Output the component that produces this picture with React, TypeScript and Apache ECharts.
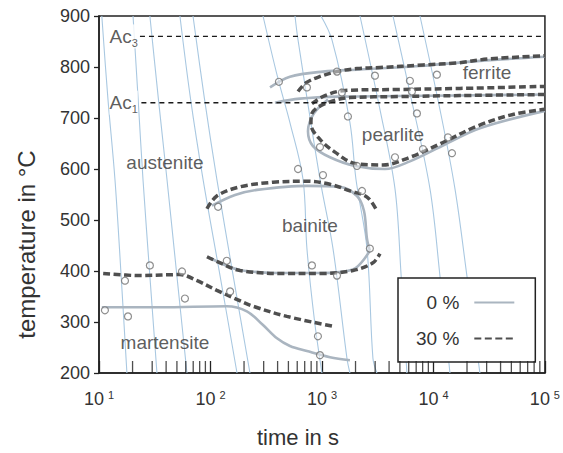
import React, { useEffect, useRef } from "react";
import * as echarts from "echarts";

// ---------- axis ticks ----------
const yTicks = [200, 300, 400, 500, 600, 700, 800, 900];
const decades = [10, 100, 1000, 10000];
const mantissas = [2, 3, 4, 5, 6, 7, 8, 9];

// ---------- critical temperatures ----------
const ac3Line = [[23.3, 860], [100000, 860]];
const ac1Line = [[24, 730], [100000, 730]];

// ---------- cooling curves (time s, temperature °C) ----------
const cool1 = [[10.6, 900], [12, 740], [13.9, 580], [15.8, 390], [17.8, 200]];
const cool2 = [[20.2, 900], [22.4, 740], [24.8, 580], [28.6, 390], [33.1, 200]];
const cool3 = [[28.6, 900], [34, 740], [40.7, 580], [50, 390], [61.5, 200]];
const cool4 = [[53.2, 900], [66, 740], [85.7, 580], [122, 390], [173, 200]];
const cool5 = [[69.7, 900], [88, 740], [114, 580], [160, 390], [226, 200]];
const cool6 = [[296, 900], [400, 780], [516, 691], [676, 580], [733, 444], [860, 300], [1000, 200]];
const cool7 = [[573, 900], [610, 853], [960, 580], [1256, 444], [1675, 229], [1782, 200]];
const cool8 = [[980, 900], [1230, 853], [1782, 691], [2018, 580], [2535, 444], [2865, 229], [3113, 200]];
const cool9 = [[2193, 900], [3311, 717], [4520, 561], [5100, 400], [5780, 200]];
const cool10 = [[4335, 900], [6150, 750], [9310, 561], [11430, 391], [14060, 200]];
const cool11 = [[7570, 900], [11430, 717], [15600, 561], [19950, 391], [26100, 200]];
const coolingCurves = [cool1, cool2, cool3, cool4, cool5, cool6, cool7, cool8, cool9, cool10, cool11];

// ---------- 0 % (solid) ----------
const s0Ferrite = [[342, 760], [516, 781], [1021, 791], [2193, 795], [7570, 802], [26100, 812], [100000, 820]];
const s0FerrPearl = [[379, 730], [635, 738], [1449, 742], [5012, 743], [100000, 746]];
const s0Pearlite = [[1133, 736], [847, 709], [749, 674], [830, 645], [1180, 623], [1977, 606], [3673, 600], [6150, 615], [12680, 648], [26100, 680], [100000, 714]];
const s0Bainite = [[103, 528], [166, 549], [261, 559], [733, 567], [1449, 565], [2061, 547], [2380, 518], [2535, 463], [2690, 440]];
const s0BainiteEnd = [[100, 425], [184, 402], [485, 396], [960, 396], [1897, 403], [2690, 440]];
const s0Martensite = [[10.6, 329], [35.2, 329], [140, 331], [212, 321], [296, 294], [395, 268], [516, 253], [733, 243], [1180, 231], [1782, 225]];

// ---------- 30 % (dashed) ----------
const s30Ferrite = [[610, 752], [720, 769], [950, 781], [1364, 791], [2061, 797], [3311, 799], [8051, 804], [16260, 808], [32100, 816], [100000, 822]];
const s30FerrEnd = [[813, 728], [1064, 744], [1607, 754], [5012, 756], [17300, 758], [100000, 762]];
const s30Pearlite = [[100000, 746], [17300, 744], [5012, 742], [1782, 740], [1064, 728], [813, 709], [796, 688], [960, 658], [1309, 633], [1977, 611], [3524, 608], [6150, 623], [12160, 652], [24550, 684], [51600, 707], [100000, 717]];
const s30Bainite = [[93, 522], [114, 547], [184, 565], [364, 574], [733, 576], [1180, 570], [1783, 557], [2535, 545], [3113, 518]];
const s30BainiteEnd = [[93, 428], [122, 416], [184, 401], [485, 395], [960, 395], [1897, 401], [2865, 416], [3311, 434]];
const s30Martensite = [[10.9, 395], [23.3, 391], [53, 393], [76, 381], [114, 362], [166, 346], [240, 331], [485, 311], [1230, 292]];

// ---------- measured points (circles) ----------
const measured = [
  [411, 771], [733, 760], [1364, 791], [2987, 783], [6150, 773], [10740, 785],
  [1510, 750], [6410, 752], [1710, 703], [7110, 709], [960, 643], [2061, 606],
  [4520, 623], [8051, 639], [13490, 662], [14660, 631], [610, 600], [1021, 588],
  [2286, 557], [117, 526], [140, 420], [2690, 444], [813, 411], [1364, 391],
  [28.6, 411], [55.5, 399], [17.1, 381], [11.3, 323], [18.2, 311], [59, 346],
  [150, 360], [920, 272], [960, 235],
];

// ---------- region labels ----------
const regionLabels = [
  { name: "austenite", t: 39, T: 613 },
  { name: "ferrite", t: 30200, T: 789 },
  { name: "pearlite", t: 4335, T: 668 },
  { name: "bainite", t: 780, T: 489 },
  { name: "martensite", t: 39, T: 259 },
];
const acLabels = [
  { name: "3", t: 12.3, T: 860 },
  { name: "1", t: 12.3, T: 730 },
];

const TXT = "#333";
const DARK = "#4f4f4f";
const LIGHT = "#aab5c0";
const COOL = "#a9c8e1";
const FONT = "Arial, 'Liberation Sans', Helvetica, sans-serif";

export default function App() {
  const ref = useRef<HTMLDivElement>(null);
  useEffect(() => {
    if (!ref.current) return;
    const chart = echarts.init(ref.current, undefined, { renderer: "svg" });

    const minorTicks: number[][] = [];
    decades.forEach((d) => mantissas.forEach((m) => minorTicks.push([d * m, 200])));

    const line = (name: string, data: number[][], style: any, z = 2) => ({
      type: "line",
      name,
      data,
      symbol: "none",
      showSymbol: false,
      smooth: 0.35,
      silent: true,
      z,
      itemStyle: { color: style.color, opacity: 0 },
      lineStyle: style,
    });

    const series: any[] = [];
    coolingCurves.forEach((c) => series.push(line("cooling", c, { color: COOL, width: 1.1 }, 1)));
    [s0Ferrite, s0FerrPearl, s0Pearlite, s0Bainite, s0BainiteEnd, s0Martensite].forEach((c) =>
      series.push(line("0 %", c, { color: LIGHT, width: 2.6 }, 2))
    );
    [s30Ferrite, s30FerrEnd, s30Pearlite, s30Bainite, s30BainiteEnd, s30Martensite].forEach((c) =>
      series.push(line("30 %", c, { color: DARK, width: 3.5, type: [7, 3.5] }, 3))
    );
    series.push({ ...line("Ac3", ac3Line, { color: "#1a1a1a", width: 1.4, type: [5, 4] }, 4), smooth: false });
    series.push({ ...line("Ac1", ac1Line, { color: "#1a1a1a", width: 1.4, type: [5, 4] }, 4), smooth: false });
    series.push({
      type: "scatter",
      name: "measured",
      data: measured,
      symbol: "circle",
      symbolSize: 7,
      silent: true,
      z: 5,
      itemStyle: { color: "rgba(255,255,255,0.55)", borderColor: "#727272", borderWidth: 1.2 },
    });
    series.push({
      type: "scatter",
      name: "minorTicks",
      data: minorTicks,
      symbol: "rect",
      symbolSize: [1.3, 12],
      symbolOffset: [0, -6],
      clip: false,
      silent: true,
      z: 6,
      itemStyle: { color: "#222" },
    });
    series.push({
      type: "scatter",
      name: "regions",
      data: regionLabels.map((r) => ({ value: [r.t, r.T], name: r.name })),
      symbolSize: 1,
      silent: true,
      z: 7,
      itemStyle: { color: "rgba(0,0,0,0)" },
      label: {
        show: true,
        position: "inside",
        formatter: (p: any) => p.name,
        fontSize: 19,
        color: TXT,
        fontFamily: FONT,
      },
    });
    series.push({
      type: "scatter",
      name: "ac",
      data: acLabels.map((r) => ({ value: [r.t, r.T], name: r.name })),
      symbolSize: 1,
      silent: true,
      z: 7,
      itemStyle: { color: "rgba(0,0,0,0)" },
      label: {
        show: true,
        position: "right",
        distance: 0,
        backgroundColor: "#fff",
        formatter: (p: any) => `{a|Ac}{s|${p.name}}`,
        rich: {
          a: { fontSize: 19, color: TXT, fontFamily: FONT, lineHeight: 24, verticalAlign: "middle" },
          s: { fontSize: 11, color: TXT, fontFamily: FONT, lineHeight: 12, verticalAlign: "bottom" },
        },
      },
    });

    chart.setOption({
      animation: false,
      textStyle: { fontFamily: FONT },
      grid: {
        left: 99,
        right: 18,
        top: 16,
        bottom: 76,
        show: true,
        borderColor: "#222",
        borderWidth: 1.5,
        backgroundColor: "#fff",
      },
      legend: {
        data: ["0 %", "30 %"],
        orient: "vertical",
        align: "right",
        left: 398,
        top: 278,
        itemWidth: 40,
        itemHeight: 14,
        itemGap: 17,
        padding: [15, 20, 14, 18],
        backgroundColor: "#fff",
        borderColor: "#222",
        borderWidth: 1.5,
        borderRadius: 0,
        selectedMode: false,
        itemStyle: { opacity: 0 },
        textStyle: { fontSize: 19, color: TXT, fontFamily: FONT, padding: [0, 10, 0, 0] },
      },
      xAxis: {
        type: "log",
        logBase: 10,
        min: 10,
        max: 100000,
        name: "time in s",
        nameLocation: "middle",
        nameGap: 53,
        nameTextStyle: { fontSize: 22, color: TXT, fontFamily: FONT, padding: [0, 48, 0, 0] },
        axisLine: { show: true, lineStyle: { color: "#222", width: 1.5 } },
        axisTick: { show: true, inside: true, length: 12, lineStyle: { color: "#222", width: 1.3 } },
        splitLine: { show: false },
        axisLabel: {
          margin: 16,
          formatter: (v: number) => `{b|10}{e|${Math.round(Math.log10(v))}}`,
          rich: {
            b: { fontSize: 18, color: TXT, fontFamily: FONT, lineHeight: 20 },
            e: { fontSize: 11, color: TXT, fontFamily: FONT, lineHeight: 12, verticalAlign: "top", padding: [0, 0, 0, 4] },
          },
        },
      },
      yAxis: {
        type: "value",
        min: yTicks[0],
        max: yTicks[yTicks.length - 1],
        interval: 100,
        name: "temperature in °C",
        nameLocation: "middle",
        nameGap: 61,
        nameRotate: 90,
        nameTextStyle: { fontSize: 24, color: TXT, fontFamily: FONT, padding: [0, 100, 0, 0] },
        axisLine: { show: true, lineStyle: { color: "#222", width: 1.5 } },
        axisTick: { show: true, inside: false, length: 5, lineStyle: { color: "#222", width: 1.3 } },
        splitLine: { show: false },
        axisLabel: { margin: 9, fontSize: 18, color: TXT, fontFamily: FONT },
      },
      series,
    });
    return () => chart.dispose();
  }, []);
  return <div ref={ref} style={{ position: "absolute", left: 0, top: 0, width: 563, height: 453 }} />;
}
